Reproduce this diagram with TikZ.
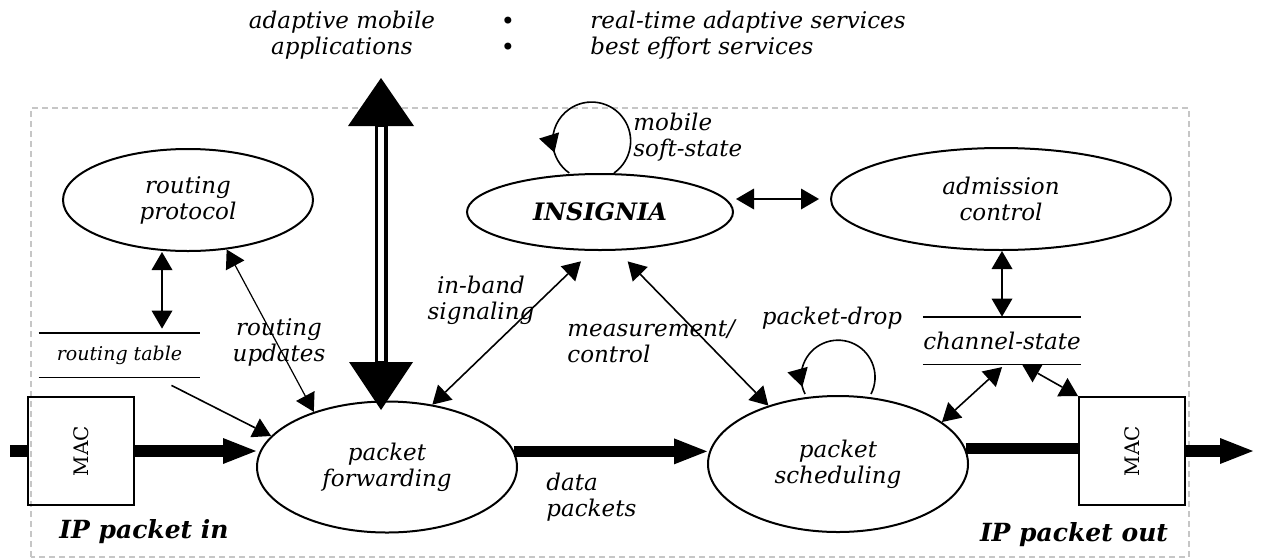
\documentclass[tikz,border=0pt]{standalone}
\usepackage{fontspec}
\setmainfont{DejaVu Serif}
\usepackage{tikz}
\usetikzlibrary{shapes.geometric, arrows.meta, positioning, calc, decorations.markings}

\tikzset{
  proc/.style={ellipse, draw, line width=1pt, inner sep=1pt, align=center,
    font=\fontsize{11.5}{13}\selectfont\itshape},
  macbox/.style={draw, line width=1pt, minimum width=53pt, minimum height=54pt,
    inner sep=0pt, font=\fontsize{10}{11}\selectfont},
  store/.style={inner sep=0pt, font=\fontsize{11.5}{13}\selectfont\itshape},
  storeline/.style={line width=0.9pt},
  lbl/.style={align=left, inner sep=0pt, font=\fontsize{11.5}{13}\selectfont\itshape},
  biglbl/.style={inner sep=0pt, font=\fontsize{12.5}{14}\selectfont\bfseries\itshape},
  flow/.style={line width=5.75pt},
  flowarrow/.style={flow, -{Triangle[length=16.5pt,width=13pt,line width=0pt]}},
  twoway/.style={line width=0.8pt,
    {Triangle[length=9pt,width=10.5pt,line width=0pt]}-{Triangle[length=9pt,width=10.5pt,line width=0pt]}},
  oneway/.style={line width=0.8pt, -{Triangle[length=9pt,width=10.5pt,line width=0pt]}},
  selfloop/.style={line width=0.8pt, postaction={decorate},
    decoration={markings, mark=at position #1 with {\arrow{Triangle[length=9pt,width=10.5pt,line width=0pt]}}}}
}

\begin{document}
\begin{tikzpicture}[x=0.5pt,y=0.5pt]
  \path[use as bounding box] (0,0) rectangle (1261,559);
  \draw[gray!45, densely dashed, line width=0.6pt] (31,2) rectangle (1189,451);

  % applications on top
  \node[lbl, align=center] (apps) at (342,524) {adaptive mobile\\applications};
  \node[inner sep=0pt, font=\large] (dot1) at (508,536) {\textbullet};
  \node[inner sep=0pt, font=\large] (dot2) at (508,510) {\textbullet};
  \node[lbl, anchor=west] (svc) at (590,524) {real-time adaptive services\\best effort services};

  % processes
  \node[proc, minimum width=125pt, minimum height=51pt] (rp) at (188,359) {routing\\protocol};
  \node[proc, minimum width=133pt, minimum height=38pt, font=\fontsize{12}{13}\selectfont\bfseries\itshape] (ins) at (600,347) {INSIGNIA};
  \node[proc, minimum width=170pt, minimum height=51pt] (adm) at (1001,360) {admission\\control};
  \node[proc, minimum width=130pt, minimum height=65.5pt] (fwd) at (387,92) {packet\\forwarding};
  \node[proc, minimum width=130pt, minimum height=68pt] (sch) at (838,95) {packet\\scheduling};

  % MAC boxes
  \node[macbox] (macin) at (81,108) {\rotatebox{90}{MAC}};
  \node[macbox] (macout) at (1132,108) {\rotatebox{90}{MAC}};

  % stores
  \node[store, minimum width=80.5pt, minimum height=22pt, font=\fontsize{9.5}{11}\selectfont\itshape] (rtab) at (119.5,204) {routing table};
  \draw[storeline] (rtab.north west) -- (rtab.north east);
  \draw[storeline] (rtab.south west) -- (rtab.south east);
  \node[store, minimum width=77pt, minimum height=23.5pt] (cs) at (1002,218.5) {channel-state};
  \draw[storeline] (cs.north west) -- (cs.north east);
  \draw[storeline] (cs.south west) -- (cs.south east);

  % data path
  \coordinate (inl) at (10,108);
  \coordinate (outr) at (1253,108);
  \draw[flow] (inl) -- (macin.west);
  \draw[flowarrow] (macin.east) -- (fwd.west |- macin.east);
  \draw[flowarrow] (fwd.7) -- (fwd.7 -| sch.west);
  \draw[flow] (sch.7) -- (sch.7 -| macout.west);
  \draw[flowarrow] (macout.east) -- (outr);

  % double arrow to the applications
  \coordinate (apptip) at (381,481);
  \coordinate (fwdtip) at (381,149);
  \draw[line width=6.5pt, {Triangle[length=24pt,width=33pt,line width=0pt]}-{Triangle[length=24pt,width=32pt,line width=0pt]}] (apptip) -- (fwdtip);
  \draw[white, line width=3pt, shorten <=24.5pt, shorten >=24.5pt] (apptip) -- (fwdtip);

  % signalling
  \draw[twoway, shorten >=2pt] ([xshift=-13pt]rp.south) -- ([xshift=-13pt]rp.south |- rtab.north);
  \draw[oneway] ([xshift=26pt,yshift=-4pt]rtab.south) -- (fwd.165);
  \draw[twoway, line width=0.6pt] (rp.-52) -- (fwd.143);
  \draw[twoway, shorten >=7.5pt] (fwd.54) -- (ins.258);
  \draw[twoway, shorten <=7.5pt] (ins.294) -- (sch.140);
  \draw[twoway] ([xshift=1pt]ins.east |- adm.west) -- ([xshift=-5.5pt]adm.west);
  \draw[twoway] (adm.south -| cs.north) -- (cs.north);
  \draw[twoway, shorten >=2pt] (sch.22) -- ([xshift=1.5pt]cs.south);
  \draw[twoway] ([xshift=10pt]cs.south) -- (macout.north west);

  % loops
  \draw[selfloop=0.87] ([xshift=7pt]ins.north) arc[start angle=-55, end angle=235, radius=19.5pt];
  \draw[selfloop=0.95] ([xshift=16.5pt,yshift=0.5pt]sch.north) arc[start angle=-27, end angle=207, radius=18.5pt];

  % labels
  \node[lbl, anchor=west] (mss) at (633,422) {mobile\\soft-state};
  \node[lbl, align=center] (rupd) at (279,217) {routing\\updates};
  \node[lbl, align=center] (inb) at (481,259) {in-band\\signaling};
  \node[lbl, anchor=west] (meas) at (567,218) {measurement/\\control};
  \node[lbl] (pdrop) at (832,241) {packet-drop};
  \node[lbl, anchor=west] (dpk) at (546,62) {data\\packets};
  \node[biglbl] (ipin) at (144,27) {IP packet in};
  \node[biglbl] (ipout) at (1074,24) {IP packet out};
\end{tikzpicture}
\end{document}
